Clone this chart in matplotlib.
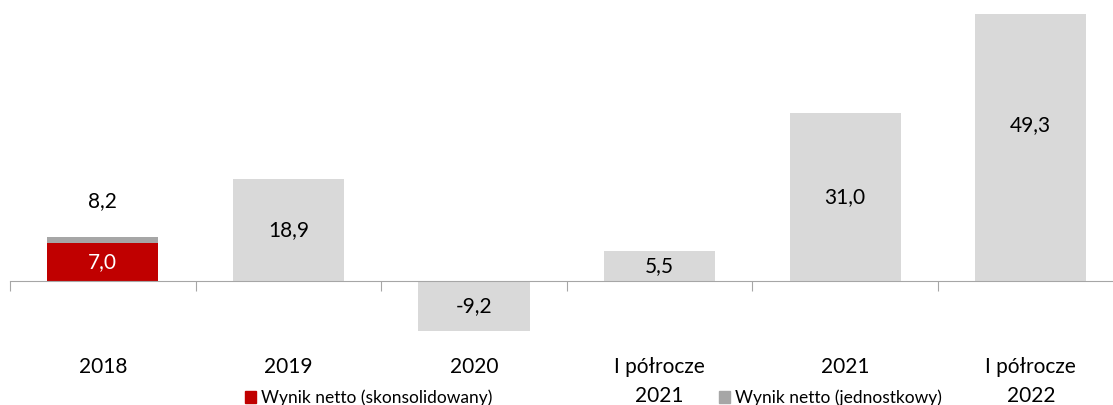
import matplotlib.pyplot as plt
from matplotlib.patches import Patch
from matplotlib.transforms import blended_transform_factory

plt.rcParams["font.family"] = ["Lato", "DejaVu Sans"]

# Net result, PLN m
categories = ["2018", "2019", "2020", "I półrocze\n2021", "2021", "I półrocze\n2022"]
standalone = [8.2, 18.9, -9.2, 5.5, 31.0, 49.3]
consolidated = [7.0, None, None, None, None, None]

RED = "#C00000"
DARK_GREY = "#A6A6A6"
LIGHT_GREY = "#D9D9D9"

W, H = 1113, 405
fig = plt.figure(figsize=(W / 100, H / 100), dpi=100)

# axes placed in pixels: zero line at y=281, 5.416 px per unit, categories 185.6 px wide
px_per_unit = 5.416
y_top, y_bot = 52, -20
top_px = 281 - y_top * px_per_unit
bot_px = 281 - y_bot * px_per_unit
left_px, width_px = 10, 6 * 185.6
ax = fig.add_axes([left_px / W, (H - bot_px) / H, width_px / W, (bot_px - top_px) / H])
ax.set_xlim(-0.5, 5.5)
ax.set_ylim(y_bot, y_top)

x = list(range(len(categories)))
bar_w = 0.6
colors = [DARK_GREY] + [LIGHT_GREY] * (len(categories) - 1)
ax.bar(x, standalone, width=bar_w, color=colors, zorder=2)
cons_x = [i for i, v in zip(x, consolidated) if v is not None]
cons_v = [v for v in consolidated if v is not None]
ax.bar(cons_x, cons_v, width=bar_w, color=RED, zorder=3)

fmt = lambda v: f"{v:.1f}".replace(".", ",")

# value labels
for i, v in enumerate(standalone):
    if i == 0:
        y = v + 6.6  # above the stacked 2018 bar
    elif i == len(standalone) - 1:
        y = v / 2 + 4.2
    else:
        y = v / 2
    ax.text(i, y, fmt(v), ha="center", va="center", fontsize=15, color="#000000", zorder=4)
for i, v in zip(cons_x, cons_v):
    ax.text(i, v / 2, fmt(v), ha="center", va="center", fontsize=15, color="white", zorder=4)

# axis line at zero with ticks between categories
for s in ["left", "right", "top"]:
    ax.spines[s].set_visible(False)
ax.spines["bottom"].set_position(("data", 0))
ax.spines["bottom"].set_color("#A6A6A6")
ax.spines["bottom"].set_zorder(5)
ax.set_yticks([])
ax.set_xticks([i - 0.5 for i in range(len(categories) + 1)])
ax.set_xticklabels([])
ax.tick_params(axis="x", direction="out", length=7, color="#A6A6A6")

# category labels
trans = blended_transform_factory(ax.transData, fig.transFigure)
for i, c in enumerate(categories):
    ax.text(i, 1 - 357 / H, c, transform=trans, ha="center", va="top",
            fontsize=15, linespacing=1.58, color="#000000", clip_on=False)

handles = [Patch(color=RED, label="Wynik netto (skonsolidowany)"),
           Patch(color=DARK_GREY, label="Wynik netto (jednostkowy)")]
fig.legend(handles=handles, loc="center left", bbox_to_anchor=(245 / W, 7 / H),
           ncol=2, frameon=False, fontsize=12.5, handlelength=0.65, handleheight=0.65,
           handletextpad=0.3, columnspacing=13.0, borderpad=0, borderaxespad=0)

fig.savefig("out.png", dpi=100)
